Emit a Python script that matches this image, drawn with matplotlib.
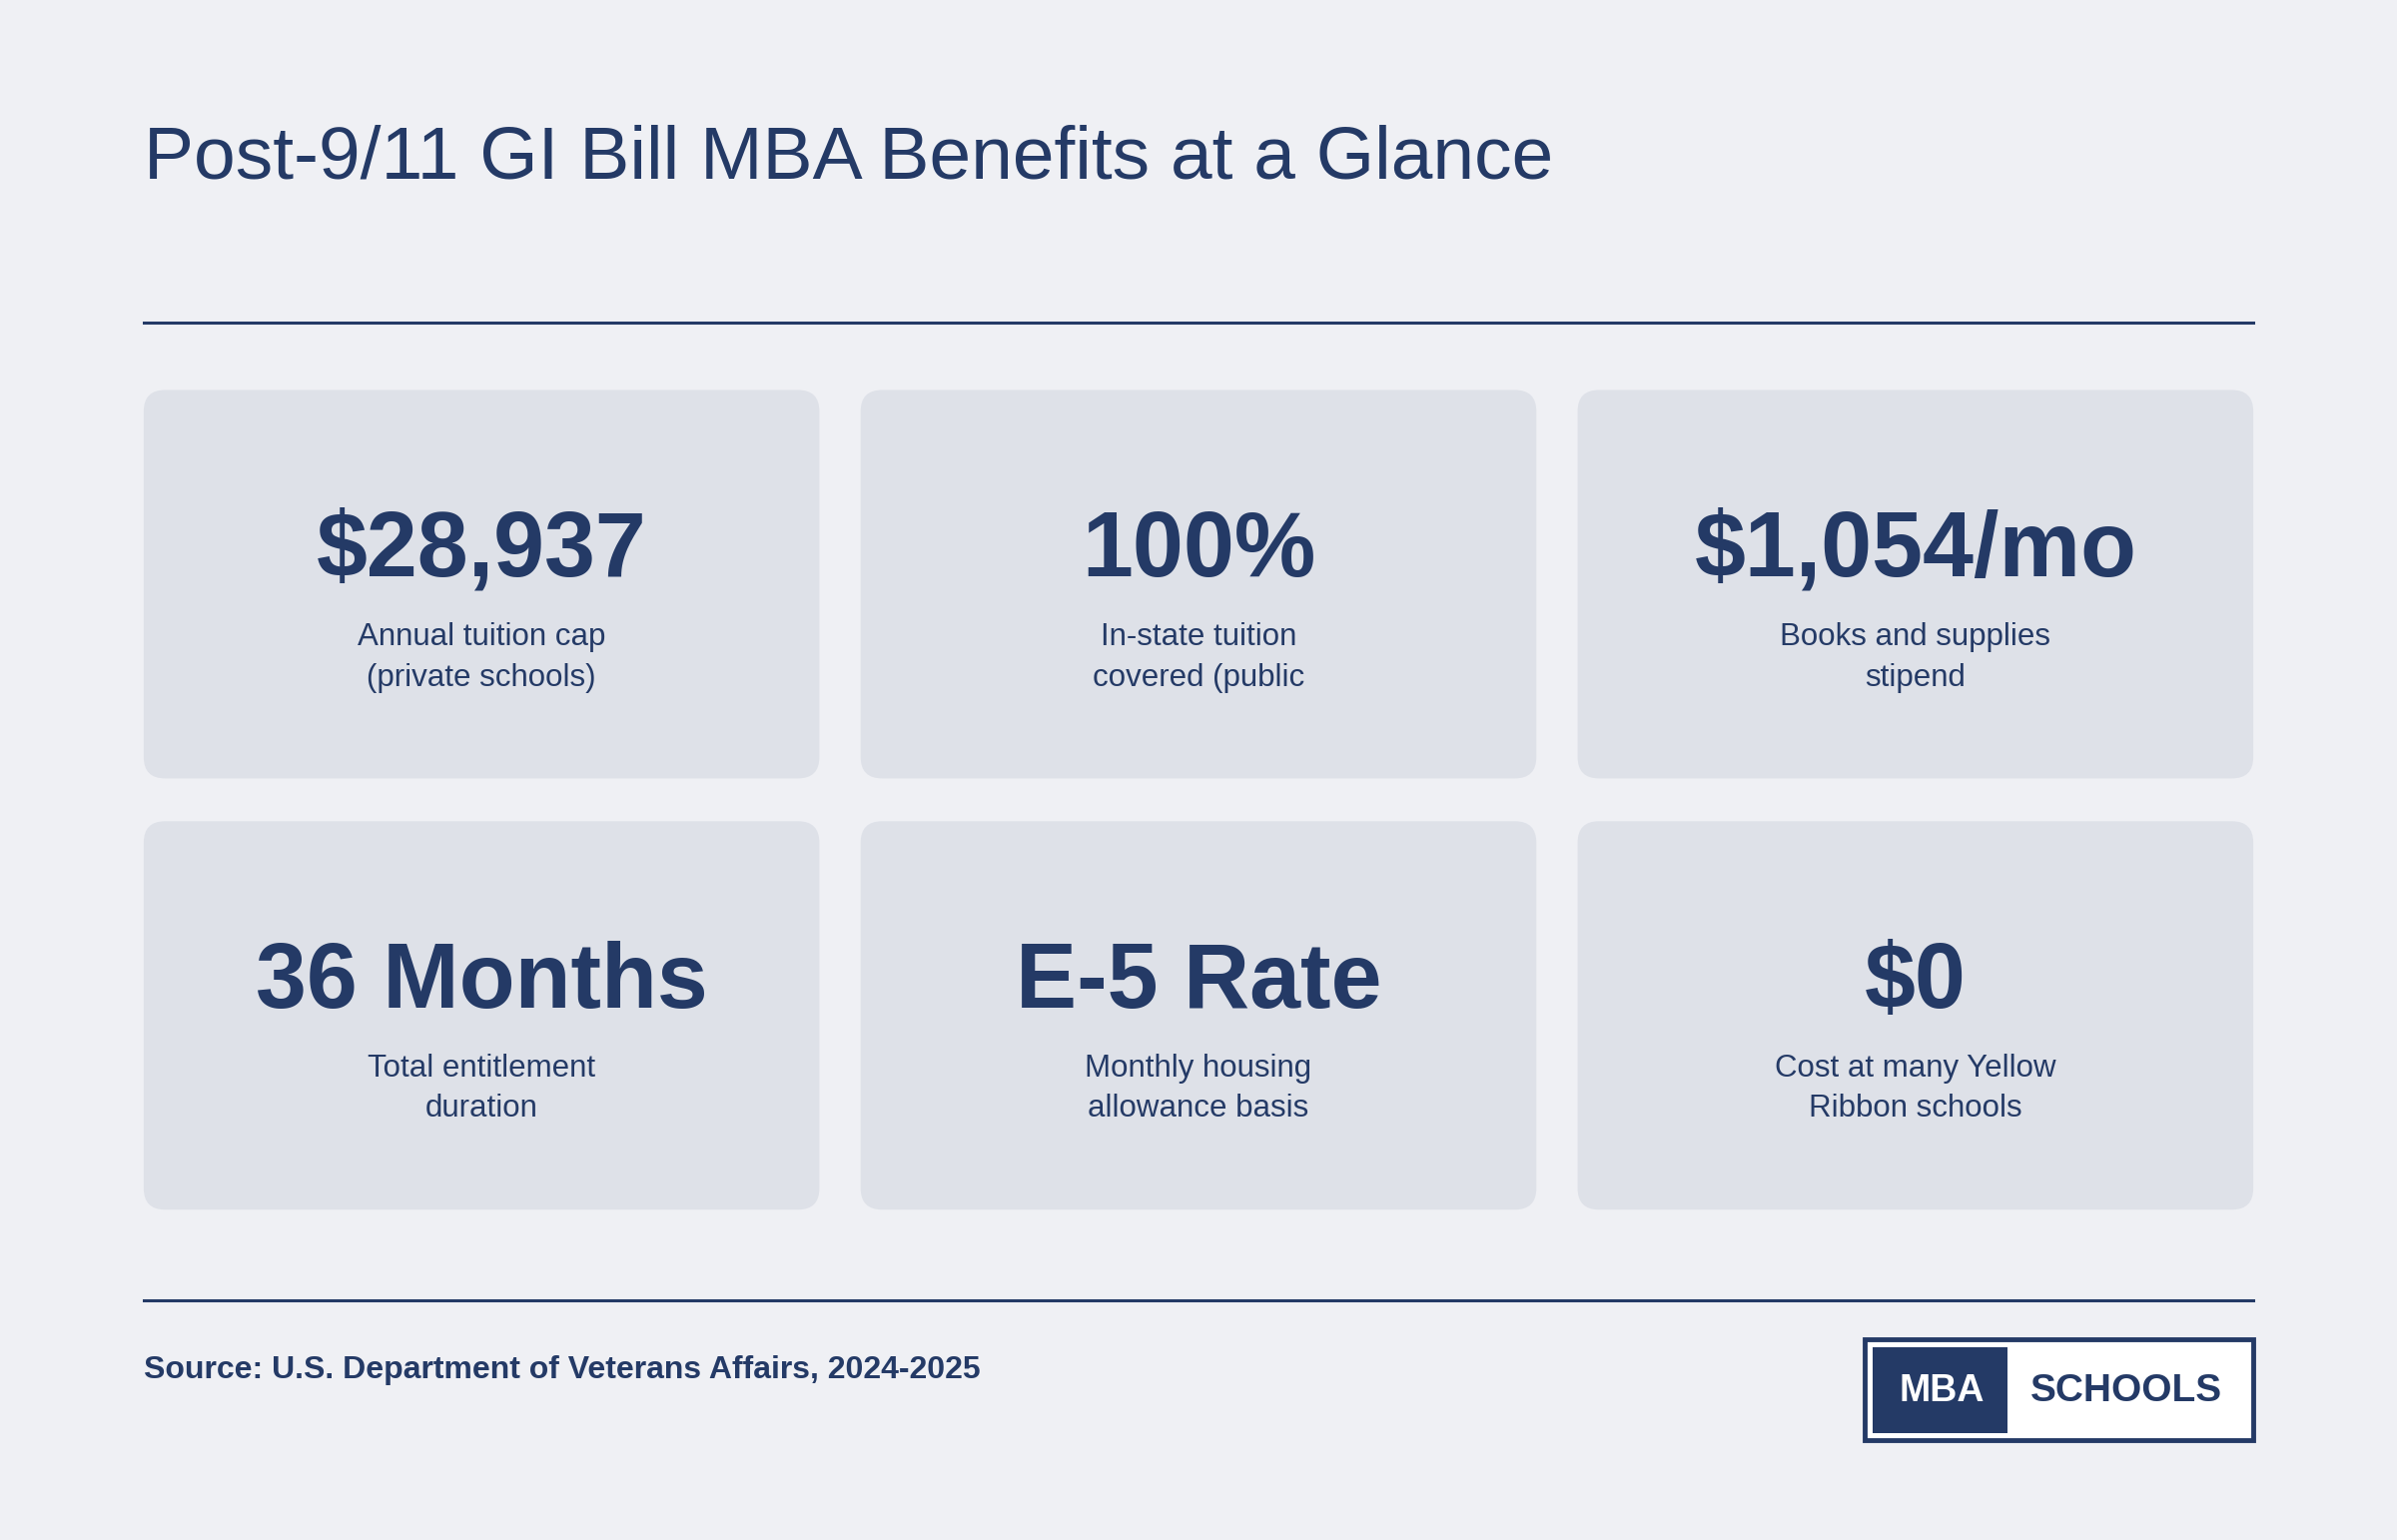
import matplotlib.pyplot as plt
from matplotlib.patches import FancyBboxPatch, Rectangle

plt.rcParams['font.family'] = ['Liberation Sans', 'DejaVu Sans']

NAVY = '#243a66'
BG = '#eff0f4'
CARD = '#dee1e8'

title = "Post-9/11 GI Bill MBA Benefits at a Glance"
values = ["$28,937", "100%", "$1,054/mo", "36 Months", "E-5 Rate", "$0"]
labels = [
    "Annual tuition cap\n(private schools)",
    "In-state tuition\ncovered (public",
    "Books and supplies\nstipend",
    "Total entitlement\nduration",
    "Monthly housing\nallowance basis",
    "Cost at many Yellow\nRibbon schools",
]
source = "Source: U.S. Department of Veterans Affairs, 2024-2025"

W, H = 1568, 1007
fig = plt.figure(figsize=(24, 15.42), dpi=100)
fig.patch.set_facecolor(BG)
ax = fig.add_axes([0, 0, 1, 1])
ax.set_xlim(0, W)
ax.set_ylim(H, 0)
ax.axis('off')

ax.text(94, 104, title, fontsize=54, color=NAVY, va='center', ha='left')
ax.plot([94, 1474], [211, 211], color=NAVY, lw=2.2)
ax.plot([94, 1474], [850, 850], color=NAVY, lw=2.2)

col_x = [94, 563, 1032]
row_y = [255, 537]
cw, ch = 442, 254
for i, (val, lab) in enumerate(zip(values, labels)):
    x0 = col_x[i % 3]
    y0 = row_y[i // 3]
    ax.add_patch(FancyBboxPatch((x0 + 14, y0 + 14), cw - 28, ch - 28,
                                boxstyle="round,pad=14,rounding_size=14",
                                fc=CARD, ec='none'))
    cx = x0 + cw / 2
    ax.text(cx, y0 + 106, val, fontsize=66, fontweight='bold', color=NAVY,
            ha='center', va='center')
    ax.text(cx, y0 + 175, lab, fontsize=22.5, color=NAVY, ha='center',
            va='center', linespacing=1.45)

ax.text(94, 896, source, fontsize=23, fontweight='bold', color=NAVY,
        ha='left', va='center')

# logo
ax.add_patch(Rectangle((1220, 876), 254, 66, fc='white', ec=NAVY, lw=3.5))
ax.add_patch(Rectangle((1225, 881), 88, 56, fc=NAVY, ec='none'))
ax.text(1270, 910, "MBA", fontsize=27, fontweight='bold', color='white',
        ha='center', va='center')
ax.text(1391, 910, "SCHOOLS", fontsize=28, fontweight='bold', color=NAVY,
        ha='center', va='center')

fig.savefig('out.png', dpi=100, facecolor=BG)
